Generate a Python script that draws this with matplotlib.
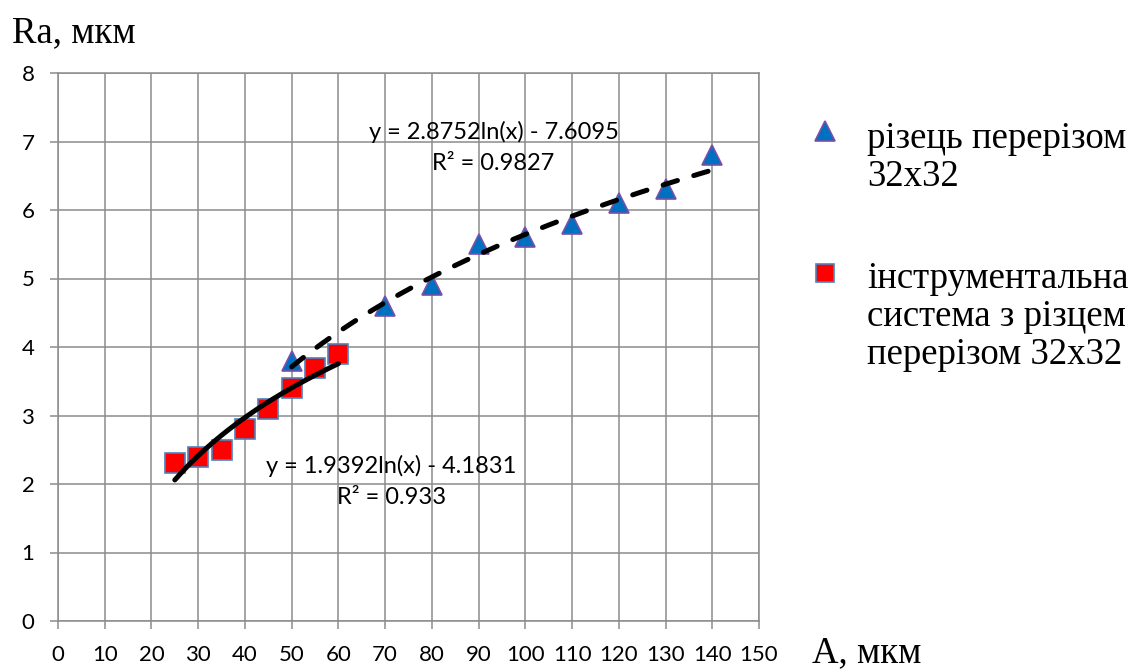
import numpy as np
import matplotlib
matplotlib.use('Agg')
import matplotlib.pyplot as plt

# Data
x_cutter = [50, 70, 80, 90, 100, 110, 120, 130, 140]
ra_cutter = [3.8, 4.6, 4.9, 5.5, 5.6, 5.8, 6.1, 6.3, 6.8]

x_system = [25, 30, 35, 40, 45, 50, 55, 60]
ra_system = [2.3, 2.4, 2.5, 2.8, 3.1, 3.4, 3.7, 3.9]

label_cutter = 'різець перерізом\n32x32'
label_system = 'інструментальна\nсистема з різцем\nперерізом 32x32'

eq_cutter = 'y = 2.8752ln(x) - 7.6095\nR² = 0.9827'
eq_system = 'y = 1.9392ln(x) - 4.1831\nR² = 0.933'

x_ticks = list(range(0, 151, 10))
y_ticks = list(range(0, 9))

tick_font = 'Lato'
serif_font = 'Liberation Serif'
grid_color = '#8c8c8c'
W, H = 1136, 669


def log_trend(xs, ys):
    """Logarithmic trend line (least squares on ln(x)), like Excel's."""
    k, b = np.polyfit(np.log(xs), ys, 1)
    xx = np.linspace(min(xs), max(xs), 200)
    return xx, k * np.log(xx) + b


def px(x, y):
    """pixel position (from top-left) -> figure fraction"""
    return x / W, 1 - y / H


fig = plt.figure(figsize=(W / 100, H / 100), dpi=100)
ax = fig.add_axes([58 / W, 1 - 621 / H, (759 - 58) / W, (621 - 73) / H])

ax.set_xlim(0, 150)
ax.set_ylim(0, 8)
ax.set_xticks(x_ticks)
ax.set_yticks(y_ticks)
ax.grid(True, color=grid_color, linewidth=1.1)
ax.set_axisbelow(True)
for side in ax.spines.values():
    side.set_color(grid_color)
    side.set_linewidth(1.1)
ax.tick_params(direction='out', length=6, width=1.1, color=grid_color, labelsize=16)
ax.tick_params(axis='x', pad=11)
ax.tick_params(axis='y', pad=11)
for lbl in ax.get_xticklabels() + ax.get_yticklabels():
    lbl.set_fontfamily(tick_font)

# trend lines
tx, ty = log_trend(x_cutter, ra_cutter)
ax.plot(tx, ty, color='black', linewidth=3.6, linestyle=(0, (3, 3.4)),
        solid_capstyle='round', dash_capstyle='round', zorder=4)
sx, sy = log_trend(x_system, ra_system)
ax.plot(sx, sy, color='black', linewidth=3.6, solid_capstyle='round', zorder=4)

# markers
ax.plot(x_cutter, ra_cutter, linestyle='none', marker='^', markersize=14,
        markerfacecolor='#0070C0', markeredgecolor='#7A4FA8', markeredgewidth=1.2,
        zorder=3)
ax.plot(x_system, ra_system, linestyle='none', marker='s', markersize=14,
        markerfacecolor='#FF0000', markeredgecolor='#4F81BD', markeredgewidth=1.2,
        zorder=3)

# trend equations
ax.text(93.2, 6.91, eq_cutter, ha='center', va='center', fontsize=17,
        fontfamily=tick_font, linespacing=1.6, zorder=5)
ax.text(71.4, 2.04, eq_system, ha='center', va='center', fontsize=17,
        fontfamily=tick_font, linespacing=1.6, zorder=5)

# axis titles
fig.text(*px(12, 42), 'Ra, мкм', ha='left', va='baseline',
         fontsize=26.5, fontfamily=serif_font)
fig.text(*px(812, 662), 'А, мкм', ha='left', va='baseline',
         fontsize=26.5, fontfamily=serif_font)

# legend drawn by hand
fig.lines.append(plt.Line2D(*[[v] for v in px(825, 131)], transform=fig.transFigure,
                            marker='^', markersize=14, markerfacecolor='#0070C0',
                            markeredgecolor='#7A4FA8', markeredgewidth=1.2))
fig.lines.append(plt.Line2D(*[[v] for v in px(825, 273)], transform=fig.transFigure,
                            marker='s', markersize=13.5, markerfacecolor='#FF0000',
                            markeredgecolor='#4F81BD', markeredgewidth=1.2))
for label, base in [(label_cutter, 148), (label_system, 288)]:
    for i, line in enumerate(label.split('\n')):
        fig.text(*px(867, base + i * 38), line, ha='left', va='baseline',
                 fontsize=26.5, fontfamily=serif_font)

fig.savefig('out.png', dpi=100)
